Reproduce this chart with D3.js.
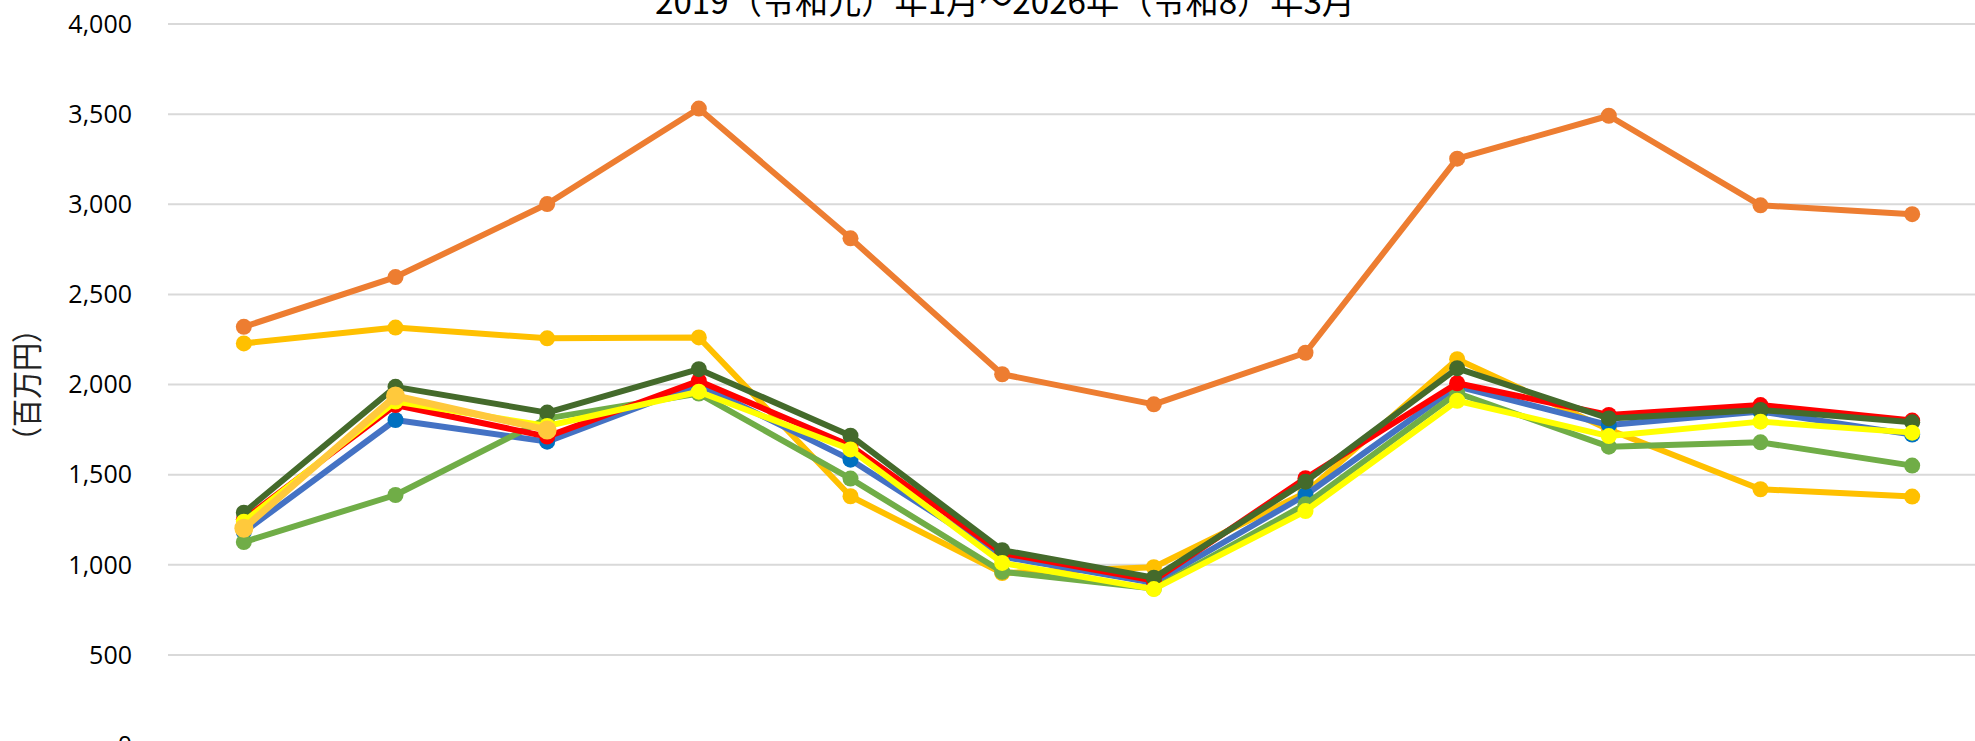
<!DOCTYPE html>
<meta charset="utf-8">
<style>
body { margin: 0; background: #fff; }
svg { display: block; }
.grid line { stroke: #d9d9d9; stroke-width: 2px; }
.ylab text { font-family: "Open Sans", sans-serif; font-size: 25px; fill: #000; }
.title { font-family: "Noto Sans CJK JP", sans-serif; font-size: 34px; fill: #000; }
.unit { font-family: "Noto Sans CJK JP", sans-serif; font-size: 31px; fill: #222; }
.series path { fill: none; stroke-linejoin: round; }
</style>
<svg width="1975" height="741"></svg>
<script src="https://cdn.jsdelivr.net/npm/d3@7"></script>
<script>

var months = ["1月", "2月", "3月", "4月", "5月", "6月", "7月", "8月", "9月", "10月", "11月", "12月"];
var yTicks = [0, 500, 1000, 1500, 2000, 2500, 3000, 3500, 4000];

// values in 百万円
var s2019 = [1181, 1803, 1683, 2000, 1583, 1045, 900, 1387, 1990, 1775, 1850, 1722];
var s2020 = [2320, 2596, 3001, 3531, 2811, 2057, 1890, 2176, 3253, 3491, 2994, 2945];
var s2021 = [2228, 2316, 2256, 2261, 1380, 954, 986, 1400, 2140, 1750, 1419, 1378];
var s2022 = [1126, 1387, 1812, 1950, 1478, 961, 868, 1335, 1953, 1655, 1679, 1550];
var s2023 = [1252, 1886, 1711, 2020, 1660, 1065, 912, 1480, 2007, 1831, 1886, 1800];
var s2024 = [1289, 1987, 1844, 2085, 1716, 1081, 928, 1461, 2090, 1812, 1859, 1790];
var s2025 = [1239, 1905, 1770, 1960, 1640, 1010, 865, 1298, 1910, 1714, 1794, 1733];
var s2026 = [1202, 1936, 1748];

// drawing order, bottom to top
var series = [
  { name: "2020", values: s2020, line: "#ed7d31", mark: "#ed7d31", w: 6, r: 8 },
  { name: "2021", values: s2021, line: "#ffc000", mark: "#ffc000", w: 6, r: 8 },
  { name: "2019", values: s2019, line: "#4472c4", mark: "#0070c0", w: 6, r: 8 },
  { name: "2022", values: s2022, line: "#70ad47", mark: "#70ad47", w: 6, r: 8 },
  { name: "2023", values: s2023, line: "#ff0000", mark: "#ff0000", w: 6, r: 8 },
  { name: "2024", values: s2024, line: "#446a2b", mark: "#446a2b", w: 6, r: 8 },
  { name: "2025", values: s2025, line: "#ffff00", mark: "#ffff00", w: 6, r: 8 },
  { name: "2026", values: s2026, line: "#ffc93c", mark: "#ffc93c", w: 7, r: 9.5 }
];

var svg = d3.select("svg");

var x = d3.scalePoint()
    .domain(months)
    .range([168, 1988])
    .padding(0.5);

var y = d3.scaleLinear()
    .domain([0, 4000])
    .range([745, 24]);

svg.append("g")
    .attr("class", "grid")
  .selectAll("line")
    .data(yTicks)
  .enter().append("line")
    .attr("x1", 168)
    .attr("x2", 1975)
    .attr("y1", function(d) { return y(d); })
    .attr("y2", function(d) { return y(d); });

svg.append("g")
    .attr("class", "ylab")
  .selectAll("text")
    .data(yTicks)
  .enter().append("text")
    .attr("x", 132)
    .attr("y", function(d) { return y(d); })
    .attr("dy", "0.35em")
    .attr("text-anchor", "end")
    .text(d3.format(","));

svg.append("text")
    .attr("class", "unit")
    .attr("transform", "translate(38,385) rotate(-90)")
    .attr("text-anchor", "middle")
    .attr("textLength", 140)
    .attr("lengthAdjust", "spacingAndGlyphs")
    .text("（百万円）");

svg.append("text")
    .attr("class", "title")
    .attr("x", 1005)
    .attr("y", 14)
    .attr("text-anchor", "middle")
    .attr("textLength", 700)
    .attr("lengthAdjust", "spacingAndGlyphs")
    .text("2019（令和元）年1月～2026年（令和8）年3月");

var line = d3.line()
    .x(function(d, i) { return x(months[i]); })
    .y(function(d) { return y(d); });

var g = svg.selectAll(".series")
    .data(series)
  .enter().append("g")
    .attr("class", "series");

g.append("path")
    .attr("d", function(d) { return line(d.values); })
    .attr("stroke", function(d) { return d.line; })
    .attr("stroke-width", function(d) { return d.w; });

g.selectAll("circle")
    .data(function(d) { return d.values.map(function(v, i) { return { v: v, i: i, s: d }; }); })
  .enter().append("circle")
    .attr("cx", function(d) { return x(months[d.i]); })
    .attr("cy", function(d) { return y(d.v); })
    .attr("r", function(d) { return d.s.r; })
    .attr("fill", function(d) { return d.s.mark; });

</script>
